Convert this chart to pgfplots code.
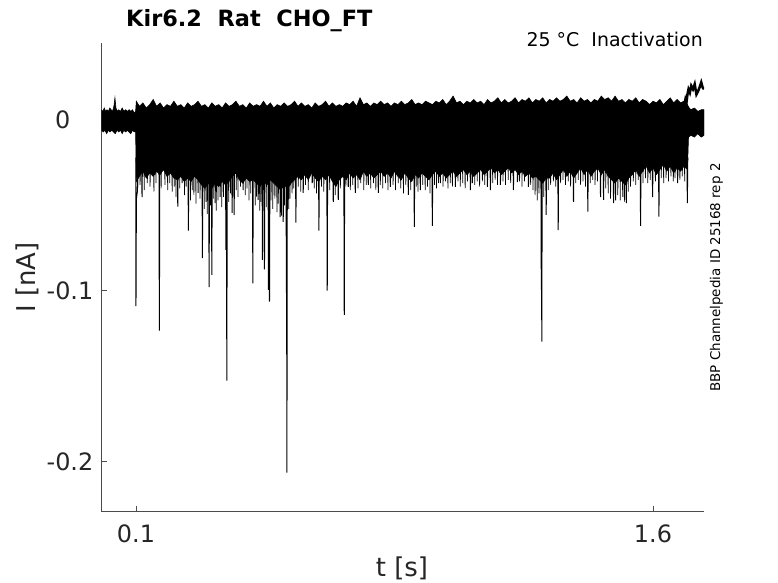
\documentclass[border=0pt]{standalone}
\usepackage{fontspec}
\setmainfont{DejaVu Sans}
\usepackage{pgfplots}
\pgfplotsset{compat=1.18}
\begin{document}
\begin{tikzpicture}
\path[use as bounding box] (0bp,0bp) rectangle (778bp,583bp);
\begin{axis}[
  at={(101.5bp,71.3bp)}, anchor=south west,
  scale only axis, width=602.5bp, height=469bp,
  xmin=0, xmax=1.748, ymin=-0.2293, ymax=0.04525,
  axis x line*=bottom, axis y line*=left,
  axis line style={black!70, line width=0.8bp, -},
  xtick={0.1,1.6}, xticklabels={0.1,1.6},
  ytick={-0.2,-0.1,0}, yticklabels={-0.2,-0.1,{0\hspace*{23bp}}},
  tick align=inside, major tick length=5.7bp,
  tick style={black!70, line width=0.8bp},
  xticklabel style={anchor=north, inner sep=0pt, yshift=-12.6bp},
  yticklabel style={anchor=east, inner sep=0pt, xshift=-8bp},
  ticklabel style={font=\fontsize{24}{28}\selectfont, text=black!85},
]
% dense band of sweeps: upper edge left to right, lower edge right to left
\addplot[black, fill=black, line width=0.6bp] coordinates {
(0.000,0.006) (0.004,0.005) (0.008,0.007) (0.012,0.005) (0.016,0.006) (0.020,0.005)
(0.024,0.007) (0.028,0.006) (0.032,0.005) (0.036,0.008) (0.039,0.013) (0.042,0.007)
(0.046,0.005) (0.050,0.006) (0.055,0.005) (0.060,0.007) (0.065,0.005) (0.070,0.006)
(0.075,0.005) (0.080,0.006) (0.085,0.005) (0.090,0.006) (0.095,0.004) (0.099,0.005)
(0.101,0.011)
(0.11,0.008) (0.12,0.010) (0.13,0.007) (0.14,0.009) (0.15,0.012) (0.16,0.008)
(0.17,0.010) (0.18,0.007) (0.19,0.009) (0.20,0.008) (0.21,0.011) (0.22,0.008)
(0.23,0.009) (0.24,0.007) (0.25,0.010) (0.26,0.008) (0.27,0.009) (0.28,0.011)
(0.29,0.008) (0.30,0.009) (0.31,0.007) (0.32,0.010) (0.33,0.008) (0.34,0.009)
(0.35,0.007) (0.36,0.010) (0.37,0.008) (0.38,0.009) (0.39,0.011) (0.40,0.008)
(0.41,0.009) (0.42,0.007) (0.43,0.010) (0.44,0.008) (0.45,0.009) (0.46,0.008)
(0.47,0.011) (0.48,0.008) (0.49,0.010) (0.50,0.007) (0.51,0.009) (0.52,0.008)
(0.53,0.010) (0.54,0.008) (0.55,0.009) (0.56,0.011) (0.57,0.008) (0.58,0.010)
(0.59,0.008) (0.60,0.009) (0.61,0.007) (0.62,0.010) (0.63,0.008) (0.64,0.009)
(0.65,0.011) (0.66,0.008) (0.67,0.010) (0.68,0.008) (0.69,0.009) (0.70,0.008)
(0.71,0.010) (0.72,0.009) (0.73,0.011) (0.74,0.008) (0.75,0.013) (0.76,0.009)
(0.77,0.010) (0.78,0.008) (0.79,0.010) (0.80,0.009) (0.81,0.011) (0.82,0.009)
(0.83,0.010) (0.84,0.008) (0.85,0.010) (0.86,0.009) (0.87,0.011) (0.88,0.009)
(0.89,0.010) (0.90,0.012) (0.91,0.009) (0.92,0.010) (0.93,0.009) (0.94,0.011)
(0.95,0.010) (0.96,0.009) (0.97,0.011) (0.98,0.010) (0.99,0.012) (1.00,0.009)
(1.01,0.011) (1.02,0.014) (1.03,0.010) (1.04,0.011) (1.05,0.009) (1.06,0.011)
(1.07,0.010) (1.08,0.012) (1.09,0.010) (1.10,0.011) (1.11,0.009) (1.12,0.012)
(1.13,0.010) (1.14,0.011) (1.15,0.013) (1.16,0.010) (1.17,0.012) (1.18,0.010)
(1.19,0.011) (1.20,0.013) (1.21,0.010) (1.22,0.012) (1.23,0.011) (1.24,0.013)
(1.25,0.010) (1.26,0.012) (1.27,0.011) (1.28,0.013) (1.29,0.010) (1.30,0.012)
(1.31,0.011) (1.32,0.013) (1.33,0.011) (1.34,0.012) (1.35,0.014) (1.36,0.011)
(1.37,0.012) (1.38,0.010) (1.39,0.013) (1.40,0.011) (1.41,0.012) (1.42,0.010)
(1.43,0.012) (1.44,0.011) (1.45,0.014) (1.46,0.012) (1.47,0.013) (1.48,0.011)
(1.49,0.014) (1.50,0.011) (1.51,0.012) (1.52,0.010) (1.53,0.012) (1.54,0.011)
(1.55,0.013) (1.56,0.010) (1.57,0.012) (1.58,0.011) (1.59,0.009) (1.60,0.011)
(1.61,0.010) (1.62,0.012) (1.63,0.009) (1.64,0.011) (1.65,0.013) (1.66,0.010)
(1.67,0.012) (1.68,0.010) (1.69,0.011) (1.70,0.009) (1.705,0.007) (1.71,0.006)
(1.72,0.007) (1.73,0.005) (1.74,0.006) (1.748,0.006)
(1.748,-0.009) (1.74,-0.010) (1.73,-0.008) (1.72,-0.010) (1.71,-0.009) (1.703,-0.010)
(1.700,-0.029) (1.69,-0.027) (1.68,-0.030) (1.67,-0.028) (1.66,-0.031) (1.65,-0.027)
(1.64,-0.030) (1.63,-0.026) (1.62,-0.029) (1.61,-0.032) (1.60,-0.028) (1.59,-0.031)
(1.58,-0.027) (1.57,-0.030) (1.56,-0.033) (1.55,-0.029) (1.54,-0.032) (1.53,-0.034)
(1.52,-0.038) (1.51,-0.036) (1.50,-0.034) (1.49,-0.037) (1.48,-0.035) (1.47,-0.033)
(1.46,-0.029) (1.45,-0.032) (1.44,-0.028) (1.43,-0.030) (1.42,-0.033) (1.41,-0.029)
(1.40,-0.032) (1.39,-0.028) (1.38,-0.031) (1.37,-0.034) (1.36,-0.030) (1.35,-0.033)
(1.34,-0.029) (1.33,-0.032) (1.32,-0.035) (1.31,-0.031) (1.30,-0.034) (1.29,-0.034)
(1.28,-0.037) (1.27,-0.035) (1.26,-0.033) (1.25,-0.034) (1.24,-0.031) (1.23,-0.033)
(1.22,-0.030) (1.21,-0.032) (1.20,-0.029) (1.19,-0.031) (1.18,-0.028) (1.17,-0.030)
(1.16,-0.032) (1.15,-0.029) (1.14,-0.031) (1.13,-0.028) (1.12,-0.030) (1.11,-0.032)
(1.10,-0.029) (1.09,-0.031) (1.08,-0.033) (1.07,-0.030) (1.06,-0.032) (1.05,-0.029)
(1.04,-0.031) (1.03,-0.033) (1.02,-0.030) (1.01,-0.032) (1.00,-0.034) (0.99,-0.031)
(0.98,-0.033) (0.97,-0.030) (0.96,-0.032) (0.95,-0.035) (0.94,-0.033) (0.93,-0.031)
(0.92,-0.034) (0.91,-0.032) (0.90,-0.036) (0.89,-0.034) (0.88,-0.031) (0.87,-0.035)
(0.86,-0.033) (0.85,-0.030) (0.84,-0.034) (0.83,-0.031) (0.82,-0.033) (0.81,-0.030)
(0.80,-0.032) (0.79,-0.034) (0.78,-0.031) (0.77,-0.033) (0.76,-0.030) (0.75,-0.035)
(0.74,-0.032) (0.73,-0.034) (0.72,-0.031) (0.71,-0.035) (0.70,-0.033) (0.69,-0.035)
(0.68,-0.039) (0.67,-0.036) (0.66,-0.032) (0.65,-0.035) (0.64,-0.033) (0.63,-0.036)
(0.62,-0.034) (0.61,-0.031) (0.60,-0.035) (0.59,-0.032) (0.58,-0.035) (0.57,-0.033)
(0.56,-0.035) (0.55,-0.037) (0.54,-0.040) (0.53,-0.038) (0.52,-0.041) (0.51,-0.039)
(0.50,-0.037) (0.49,-0.035) (0.48,-0.038) (0.47,-0.036) (0.46,-0.039) (0.45,-0.037)
(0.44,-0.035) (0.43,-0.036) (0.42,-0.034) (0.41,-0.037) (0.40,-0.035) (0.39,-0.031)
(0.38,-0.033) (0.37,-0.036) (0.36,-0.038) (0.35,-0.036) (0.34,-0.039) (0.33,-0.037)
(0.32,-0.040) (0.31,-0.037) (0.30,-0.040) (0.29,-0.038) (0.28,-0.035) (0.27,-0.033)
(0.26,-0.036) (0.25,-0.034) (0.24,-0.036) (0.23,-0.033) (0.22,-0.035) (0.21,-0.034)
(0.20,-0.031) (0.19,-0.033) (0.18,-0.029) (0.17,-0.032) (0.16,-0.030) (0.15,-0.033)
(0.14,-0.031) (0.13,-0.034) (0.12,-0.030) (0.11,-0.033) (0.101,-0.036)
(0.099,-0.007) (0.095,-0.007) (0.090,-0.006) (0.085,-0.008) (0.080,-0.007) (0.075,-0.006)
(0.070,-0.007) (0.065,-0.006) (0.060,-0.008) (0.055,-0.006) (0.050,-0.007) (0.045,-0.006)
(0.040,-0.008) (0.035,-0.007) (0.030,-0.006) (0.025,-0.007) (0.020,-0.006) (0.015,-0.008)
(0.010,-0.006) (0.005,-0.007) (0.000,-0.006)
} -- cycle;
% fine fringe of short openings below the band; the joins run inside the band
\addplot[black, line width=0.7bp] coordinates {
(0.104,-0.022) (0.105,-0.040) (0.106,-0.022) (0.111,-0.022) (0.112,-0.038) (0.113,-0.022)
(0.123,-0.022) (0.124,-0.041) (0.125,-0.022) (0.132,-0.022) (0.133,-0.037) (0.134,-0.022)
(0.140,-0.022) (0.141,-0.039) (0.142,-0.022) (0.151,-0.022) (0.152,-0.042) (0.153,-0.022)
(0.157,-0.022) (0.158,-0.037) (0.159,-0.022) (0.172,-0.022) (0.173,-0.040) (0.174,-0.022)
(0.183,-0.022) (0.184,-0.038) (0.185,-0.022) (0.191,-0.022) (0.192,-0.041) (0.193,-0.022)
(0.197,-0.022) (0.198,-0.037) (0.199,-0.022) (0.204,-0.022) (0.205,-0.042) (0.206,-0.022)
(0.210,-0.022) (0.211,-0.039) (0.212,-0.022) (0.215,-0.022) (0.216,-0.045) (0.217,-0.022)
(0.226,-0.022) (0.227,-0.040) (0.228,-0.022) (0.240,-0.022) (0.241,-0.044) (0.242,-0.022)
(0.245,-0.022) (0.246,-0.039) (0.247,-0.022) (0.257,-0.022) (0.258,-0.047) (0.259,-0.022)
(0.262,-0.022) (0.263,-0.041) (0.264,-0.022) (0.267,-0.022) (0.268,-0.044) (0.269,-0.022)
(0.273,-0.022) (0.274,-0.049) (0.275,-0.022) (0.285,-0.022) (0.286,-0.046) (0.287,-0.022)
(0.297,-0.022) (0.298,-0.052) (0.299,-0.022) (0.302,-0.022) (0.303,-0.048) (0.304,-0.022)
(0.306,-0.022) (0.307,-0.055) (0.308,-0.022) (0.315,-0.022) (0.316,-0.050) (0.317,-0.022)
(0.323,-0.022) (0.324,-0.046) (0.325,-0.022) (0.332,-0.022) (0.333,-0.053) (0.334,-0.022)
(0.337,-0.022) (0.338,-0.047) (0.339,-0.022) (0.348,-0.022) (0.349,-0.051) (0.350,-0.022)
(0.353,-0.022) (0.354,-0.045) (0.355,-0.022) (0.368,-0.022) (0.369,-0.048) (0.370,-0.022)
(0.373,-0.022) (0.374,-0.043) (0.375,-0.022) (0.390,-0.022) (0.391,-0.041) (0.392,-0.022)
(0.395,-0.022) (0.396,-0.045) (0.397,-0.022) (0.402,-0.022) (0.403,-0.039) (0.404,-0.022)
(0.416,-0.022) (0.417,-0.044) (0.418,-0.022) (0.421,-0.022) (0.422,-0.040) (0.423,-0.022)
(0.427,-0.022) (0.428,-0.047) (0.429,-0.022) (0.432,-0.022) (0.433,-0.043) (0.434,-0.022)
(0.445,-0.022) (0.446,-0.050) (0.447,-0.022) (0.449,-0.022) (0.450,-0.045) (0.451,-0.022)
(0.458,-0.022) (0.459,-0.053) (0.460,-0.022) (0.462,-0.022) (0.463,-0.048) (0.464,-0.022)
(0.477,-0.022) (0.478,-0.051) (0.479,-0.022) (0.491,-0.022) (0.492,-0.047) (0.493,-0.022)
(0.496,-0.022) (0.497,-0.052) (0.498,-0.022) (0.502,-0.022) (0.503,-0.046) (0.504,-0.022)
(0.508,-0.022) (0.509,-0.054) (0.510,-0.022) (0.512,-0.022) (0.513,-0.049) (0.514,-0.022)
(0.521,-0.022) (0.522,-0.056) (0.523,-0.022) (0.530,-0.022) (0.531,-0.050) (0.532,-0.022)
(0.542,-0.022) (0.543,-0.052) (0.544,-0.022) (0.546,-0.022) (0.547,-0.046) (0.548,-0.022)
(0.552,-0.022) (0.553,-0.043) (0.554,-0.022) (0.557,-0.022) (0.558,-0.040) (0.559,-0.022)
(0.570,-0.022) (0.571,-0.039) (0.572,-0.022) (0.577,-0.022) (0.578,-0.042) (0.579,-0.022)
(0.591,-0.022) (0.592,-0.038) (0.593,-0.022) (0.599,-0.022) (0.600,-0.041) (0.601,-0.022)
(0.616,-0.022) (0.617,-0.040) (0.618,-0.022) (0.623,-0.022) (0.624,-0.043) (0.625,-0.022)
(0.637,-0.022) (0.638,-0.039) (0.639,-0.022) (0.644,-0.022) (0.645,-0.042) (0.646,-0.022)
(0.661,-0.022) (0.662,-0.041) (0.663,-0.022) (0.677,-0.022) (0.678,-0.044) (0.679,-0.022)
(0.692,-0.022) (0.693,-0.040) (0.694,-0.022) (0.708,-0.022) (0.709,-0.039) (0.710,-0.022)
(0.721,-0.022) (0.722,-0.041) (0.723,-0.022) (0.728,-0.022) (0.729,-0.038) (0.730,-0.022)
(0.743,-0.022) (0.744,-0.040) (0.745,-0.022) (0.751,-0.022) (0.752,-0.037) (0.753,-0.022)
(0.760,-0.022) (0.761,-0.041) (0.762,-0.022) (0.767,-0.022) (0.768,-0.038) (0.769,-0.022)
(0.780,-0.022) (0.781,-0.040) (0.782,-0.022) (0.788,-0.022) (0.789,-0.037) (0.790,-0.022)
(0.795,-0.022) (0.796,-0.041) (0.797,-0.022) (0.808,-0.022) (0.809,-0.038) (0.810,-0.022)
(0.815,-0.022) (0.816,-0.040) (0.817,-0.022) (0.823,-0.022) (0.824,-0.037) (0.825,-0.022)
(0.830,-0.022) (0.831,-0.041) (0.832,-0.022) (0.845,-0.022) (0.846,-0.038) (0.847,-0.022)
(0.852,-0.022) (0.853,-0.041) (0.854,-0.022) (0.860,-0.022) (0.861,-0.037) (0.862,-0.022)
(0.867,-0.022) (0.868,-0.040) (0.869,-0.022) (0.875,-0.022) (0.876,-0.043) (0.877,-0.022)
(0.882,-0.022) (0.883,-0.038) (0.884,-0.022) (0.896,-0.022) (0.897,-0.041) (0.898,-0.022)
(0.912,-0.022) (0.913,-0.039) (0.914,-0.022) (0.917,-0.022) (0.918,-0.042) (0.919,-0.022)
(0.931,-0.022) (0.932,-0.038) (0.933,-0.022) (0.938,-0.022) (0.939,-0.041) (0.940,-0.022)
(0.945,-0.022) (0.946,-0.039) (0.947,-0.022) (0.952,-0.022) (0.953,-0.043) (0.954,-0.022)
(0.965,-0.022) (0.966,-0.038) (0.967,-0.022) (0.971,-0.022) (0.972,-0.040) (0.973,-0.022)
(0.977,-0.022) (0.978,-0.037) (0.979,-0.022) (0.990,-0.022) (0.991,-0.039) (0.992,-0.022)
(0.997,-0.022) (0.998,-0.036) (0.999,-0.022) (1.004,-0.022) (1.005,-0.040) (1.006,-0.022)
(1.011,-0.022) (1.012,-0.037) (1.013,-0.022) (1.017,-0.022) (1.018,-0.039) (1.019,-0.022)
(1.033,-0.022) (1.034,-0.036) (1.035,-0.022) (1.040,-0.022) (1.041,-0.039) (1.042,-0.022)
(1.047,-0.022) (1.048,-0.037) (1.049,-0.022) (1.054,-0.022) (1.055,-0.040) (1.056,-0.022)
(1.061,-0.022) (1.062,-0.036) (1.063,-0.022) (1.082,-0.022) (1.083,-0.038) (1.084,-0.022)
(1.089,-0.022) (1.090,-0.036) (1.091,-0.022) (1.096,-0.022) (1.097,-0.039) (1.098,-0.022)
(1.104,-0.022) (1.105,-0.036) (1.106,-0.022) (1.111,-0.022) (1.112,-0.038) (1.113,-0.022)
(1.134,-0.022) (1.135,-0.037) (1.136,-0.022) (1.141,-0.022) (1.142,-0.035) (1.143,-0.022)
(1.148,-0.022) (1.149,-0.038) (1.150,-0.022) (1.164,-0.022) (1.165,-0.036) (1.166,-0.022)
(1.171,-0.022) (1.172,-0.038) (1.173,-0.022) (1.179,-0.022) (1.180,-0.035) (1.181,-0.022)
(1.186,-0.022) (1.187,-0.037) (1.188,-0.022) (1.212,-0.022) (1.213,-0.036) (1.214,-0.022)
(1.219,-0.022) (1.220,-0.039) (1.221,-0.022) (1.226,-0.022) (1.227,-0.036) (1.228,-0.022)
(1.244,-0.022) (1.245,-0.038) (1.246,-0.022) (1.251,-0.022) (1.252,-0.041) (1.253,-0.022)
(1.257,-0.022) (1.258,-0.044) (1.259,-0.022) (1.263,-0.022) (1.264,-0.047) (1.265,-0.022)
(1.268,-0.022) (1.269,-0.043) (1.270,-0.022) (1.282,-0.022) (1.283,-0.045) (1.284,-0.022)
(1.295,-0.022) (1.296,-0.041) (1.297,-0.022) (1.302,-0.022) (1.303,-0.038) (1.304,-0.022)
(1.310,-0.022) (1.311,-0.036) (1.312,-0.022) (1.317,-0.022) (1.318,-0.039) (1.319,-0.022)
(1.331,-0.022) (1.332,-0.037) (1.333,-0.022) (1.338,-0.022) (1.339,-0.035) (1.340,-0.022)
(1.345,-0.022) (1.346,-0.038) (1.347,-0.022) (1.353,-0.022) (1.354,-0.036) (1.355,-0.022)
(1.360,-0.022) (1.361,-0.039) (1.362,-0.022) (1.375,-0.022) (1.376,-0.037) (1.377,-0.022)
(1.382,-0.022) (1.383,-0.035) (1.384,-0.022) (1.389,-0.022) (1.390,-0.038) (1.391,-0.022)
(1.396,-0.022) (1.397,-0.036) (1.398,-0.022) (1.403,-0.022) (1.404,-0.039) (1.405,-0.022)
(1.417,-0.022) (1.418,-0.037) (1.419,-0.022) (1.424,-0.022) (1.425,-0.035) (1.426,-0.022)
(1.431,-0.022) (1.432,-0.038) (1.433,-0.022) (1.438,-0.022) (1.439,-0.036) (1.440,-0.022)
(1.462,-0.022) (1.463,-0.040) (1.464,-0.022) (1.469,-0.022) (1.470,-0.043) (1.471,-0.022)
(1.476,-0.022) (1.477,-0.046) (1.478,-0.022) (1.497,-0.022) (1.498,-0.044) (1.499,-0.022)
(1.504,-0.022) (1.505,-0.047) (1.506,-0.022) (1.511,-0.022) (1.512,-0.045) (1.513,-0.022)
(1.516,-0.022) (1.517,-0.048) (1.518,-0.022) (1.527,-0.022) (1.528,-0.042) (1.529,-0.022)
(1.534,-0.022) (1.535,-0.039) (1.536,-0.022) (1.542,-0.022) (1.543,-0.036) (1.544,-0.022)
(1.549,-0.022) (1.550,-0.038) (1.551,-0.022) (1.556,-0.022) (1.557,-0.035) (1.558,-0.022)
(1.570,-0.022) (1.571,-0.037) (1.572,-0.022) (1.577,-0.022) (1.578,-0.034) (1.579,-0.022)
(1.584,-0.022) (1.585,-0.037) (1.586,-0.022) (1.591,-0.022) (1.592,-0.035) (1.593,-0.022)
(1.606,-0.022) (1.607,-0.036) (1.608,-0.022) (1.623,-0.022) (1.624,-0.034) (1.625,-0.022)
(1.630,-0.022) (1.631,-0.037) (1.632,-0.022) (1.637,-0.022) (1.638,-0.034) (1.639,-0.022)
(1.644,-0.022) (1.645,-0.036) (1.646,-0.022) (1.651,-0.022) (1.652,-0.033) (1.653,-0.022)
(1.658,-0.022) (1.659,-0.036) (1.660,-0.022) (1.663,-0.022) (1.664,-0.034) (1.665,-0.022)
(1.677,-0.022) (1.678,-0.035) (1.679,-0.022) (1.684,-0.022) (1.685,-0.033) (1.686,-0.022)
(1.691,-0.022) (1.692,-0.036) (1.693,-0.022)
};
% downward openings (spikes); the joins run inside the band
\addplot[black, line width=1bp] coordinates {
(0.0995,-0.022) (0.1000,-0.109) (0.1012,-0.046) (0.1040,-0.042) (0.1070,-0.022)
(0.1164,-0.022) (0.1176,-0.0451) (0.1188,-0.022)
(0.1667,-0.022) (0.1679,-0.1233) (0.1691,-0.022)
(0.2201,-0.022) (0.2213,-0.0507) (0.2225,-0.022)
(0.2326,-0.022) (0.2338,-0.0369) (0.2350,-0.022)
(0.2509,-0.022) (0.2521,-0.0648) (0.2533,-0.022)
(0.2791,-0.022) (0.2803,-0.0427) (0.2815,-0.022)
(0.2916,-0.022) (0.2928,-0.0809) (0.2940,-0.022)
(0.3110,-0.022) (0.3122,-0.0979) (0.3134,-0.022)
(0.3189,-0.022) (0.3201,-0.0907) (0.3213,-0.022)
(0.3285,-0.022) (0.3297,-0.0486) (0.3309,-0.022)
(0.3430,-0.022) (0.3442,-0.0451) (0.3454,-0.022)
(0.3598,-0.022) (0.3610,-0.0760) (0.3622,-0.022)
(0.3624,-0.022) (0.3636,-0.1526) (0.3648,-0.022)
(0.3778,-0.022) (0.3790,-0.0544) (0.3802,-0.022)
(0.3836,-0.022) (0.3848,-0.0556) (0.3860,-0.022)
(0.4098,-0.022) (0.4110,-0.0410) (0.4122,-0.022)
(0.4379,-0.022) (0.4391,-0.0956) (0.4403,-0.022)
(0.4534,-0.022) (0.4546,-0.0468) (0.4558,-0.022)
(0.4658,-0.022) (0.4670,-0.0819) (0.4682,-0.022)
(0.4716,-0.022) (0.4728,-0.0874) (0.4740,-0.022)
(0.4833,-0.022) (0.4845,-0.0995) (0.4857,-0.022)
(0.4862,-0.022) (0.4874,-0.1063) (0.4886,-0.022)
(0.5173,-0.022) (0.5185,-0.0568) (0.5197,-0.022)
(0.5260,-0.022) (0.5272,-0.0597) (0.5284,-0.022)
(0.5353,-0.022) (0.5365,-0.1010) (0.5377,-0.022)
(0.5367,-0.022) (0.5379,-0.2064) (0.5391,-0.022)
(0.5628,-0.022) (0.5640,-0.0601) (0.5652,-0.022)
(0.5840,-0.022) (0.5852,-0.0427) (0.5864,-0.022)
(0.6102,-0.022) (0.6114,-0.0369) (0.6126,-0.022)
(0.6296,-0.022) (0.6308,-0.0648) (0.6320,-0.022)
(0.6537,-0.022) (0.6549,-0.0999) (0.6561,-0.022)
(0.6712,-0.022) (0.6724,-0.0480) (0.6736,-0.022)
(0.6857,-0.022) (0.6869,-0.0468) (0.6881,-0.022)
(0.7031,-0.022) (0.7043,-0.1141) (0.7055,-0.022)
(0.7147,-0.022) (0.7159,-0.0392) (0.7171,-0.022)
(0.7351,-0.022) (0.7363,-0.0427) (0.7375,-0.022)
(0.7728,-0.022) (0.7740,-0.0380) (0.7752,-0.022)
(0.8019,-0.022) (0.8031,-0.0427) (0.8043,-0.022)
(0.8367,-0.022) (0.8379,-0.0392) (0.8391,-0.022)
(0.8890,-0.022) (0.8902,-0.0439) (0.8914,-0.022)
(0.9064,-0.022) (0.9076,-0.0626) (0.9088,-0.022)
(0.9238,-0.022) (0.9250,-0.0410) (0.9262,-0.022)
(0.9587,-0.022) (0.9599,-0.0620) (0.9611,-0.022)
(0.9819,-0.022) (0.9831,-0.0369) (0.9843,-0.022)
(1.0255,-0.022) (1.0267,-0.0392) (1.0279,-0.022)
(1.0691,-0.022) (1.0703,-0.0410) (1.0715,-0.022)
(1.0748,-0.022) (1.0760,-0.0369) (1.0772,-0.022)
(1.1184,-0.022) (1.1196,-0.0392) (1.1208,-0.022)
(1.1271,-0.022) (1.1283,-0.0410) (1.1295,-0.022)
(1.1562,-0.022) (1.1574,-0.0380) (1.1586,-0.022)
(1.1939,-0.022) (1.1951,-0.0410) (1.1963,-0.022)
(1.2056,-0.022) (1.2068,-0.0363) (1.2080,-0.022)
(1.2375,-0.022) (1.2387,-0.0392) (1.2399,-0.022)
(1.2748,-0.022) (1.2760,-0.0995) (1.2772,-0.022)
(1.2762,-0.022) (1.2774,-0.1298) (1.2786,-0.022)
(1.2889,-0.022) (1.2901,-0.0556) (1.2913,-0.022)
(1.3238,-0.022) (1.3250,-0.0644) (1.3262,-0.022)
(1.3682,-0.022) (1.3694,-0.0480) (1.3706,-0.022)
(1.4098,-0.022) (1.4110,-0.0537) (1.4122,-0.022)
(1.4466,-0.022) (1.4478,-0.0451) (1.4490,-0.022)
(1.4554,-0.022) (1.4566,-0.0468) (1.4578,-0.022)
(1.4844,-0.022) (1.4856,-0.0486) (1.4868,-0.022)
(1.4902,-0.022) (1.4914,-0.0470) (1.4926,-0.022)
(1.5213,-0.022) (1.5225,-0.0486) (1.5237,-0.022)
(1.5628,-0.022) (1.5640,-0.0620) (1.5652,-0.022)
(1.5977,-0.022) (1.5989,-0.0451) (1.6001,-0.022)
(1.6160,-0.022) (1.6172,-0.0566) (1.6184,-0.022)
(1.6703,-0.022) (1.6715,-0.0369) (1.6727,-0.022)
(1.6985,-0.022) (1.6997,-0.0486) (1.7009,-0.022)
};
% one sweep drifting upward at the end
\addplot[black, line width=2.5bp] coordinates {
(1.690,0.008) (1.694,0.012) (1.697,0.010) (1.700,0.015) (1.703,0.018) (1.707,0.016)
(1.711,0.020) (1.716,0.018) (1.721,0.021) (1.726,0.015) (1.731,0.017) (1.735,0.019)
(1.740,0.022) (1.744,0.019) (1.748,0.018)
};
\end{axis}
\node[anchor=base west, inner sep=0pt, font=\bfseries\fontsize{22.5}{26}\selectfont] at (126bp,556bp) {Kir6.2\ \ Rat\ \ CHO\_FT};
\node[anchor=base east, inner sep=0pt, font=\fontsize{19}{22}\selectfont] at (703bp,536bp) {25 °C\ \ Inactivation};
\node[anchor=base, inner sep=0pt, rotate=90, font=\fontsize{13.5}{16}\selectfont] at (720bp,305.5bp) {BBP Channelpedia ID 25168 rep 2};
\node[anchor=base, inner sep=0pt, rotate=90, font=\fontsize{26}{30}\selectfont, text=black!85] at (35.9bp,305.5bp) {I [nA]};
\node[anchor=base, inner sep=0pt, font=\fontsize{26}{30}\selectfont, text=black!85] at (402bp,7bp) {t [s]};
\end{tikzpicture}
\end{document}
